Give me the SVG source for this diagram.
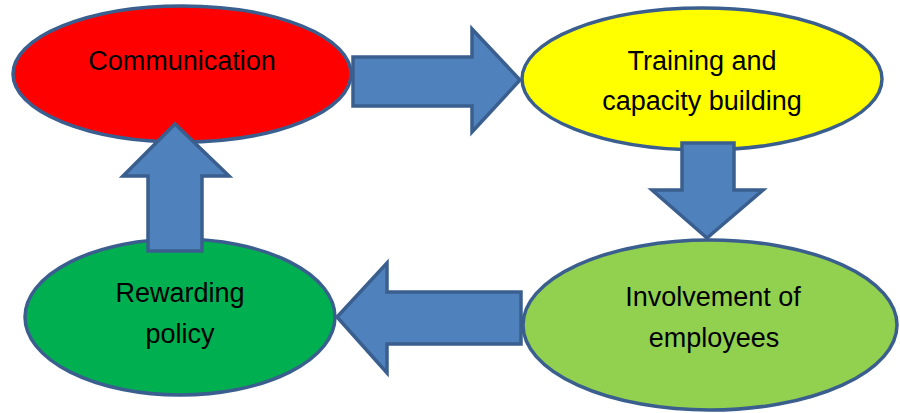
<svg xmlns="http://www.w3.org/2000/svg" width="900" height="413" viewBox="0 0 900 413">
  <style>
    .node { stroke: #3A5F8F; stroke-width: 3.5; }
    .arrow { fill: #4F81BD; stroke: #3A5F8F; stroke-width: 3.5; stroke-linejoin: miter; }
    .label { font-family: "Liberation Sans", Arial, sans-serif; font-size: 27px; fill: #000; text-anchor: middle; }
  </style>
  <rect width="900" height="413" fill="#FFFFFF"/>

  <g id="communication">
    <ellipse class="node" cx="182" cy="74" rx="169" ry="68" fill="#FF0000"/>
    <text class="label" x="182" y="70">Communication</text>
  </g>

  <g id="training">
    <ellipse class="node" cx="702" cy="79" rx="180" ry="71" fill="#FFFF00"/>
    <text class="label" x="702" y="70">Training and</text>
    <text class="label" x="702" y="110">capacity building</text>
  </g>

  <g id="involvement">
    <ellipse class="node" cx="710" cy="325" rx="187" ry="85" fill="#92D050"/>
    <text class="label" x="713" y="306">Involvement of</text>
    <text class="label" x="714" y="347">employees</text>
  </g>

  <g id="rewarding">
    <ellipse class="node" cx="180" cy="317" rx="155" ry="78" fill="#00B050"/>
    <text class="label" x="180" y="302">Rewarding</text>
    <text class="label" x="180" y="343">policy</text>
  </g>

  <g id="connectors">
    <!-- Communication to Training -->
    <polygon class="arrow" points="353,57 472,57 472,29 520,80 472,132 472,106 353,106"/>
    <!-- Training to Involvement -->
    <polygon class="arrow" points="682,143 734,143 734,190 763,190 707,238 652,190 682,190"/>
    <!-- Involvement to Rewarding -->
    <polygon class="arrow" points="521,292 387,292 387,263 337,317 387,373 387,344 521,344"/>
    <!-- Rewarding to Communication -->
    <polygon class="arrow" points="148,251 148,176 123,176 175,124 229,176 202,176 202,251"/>
  </g>
</svg>
